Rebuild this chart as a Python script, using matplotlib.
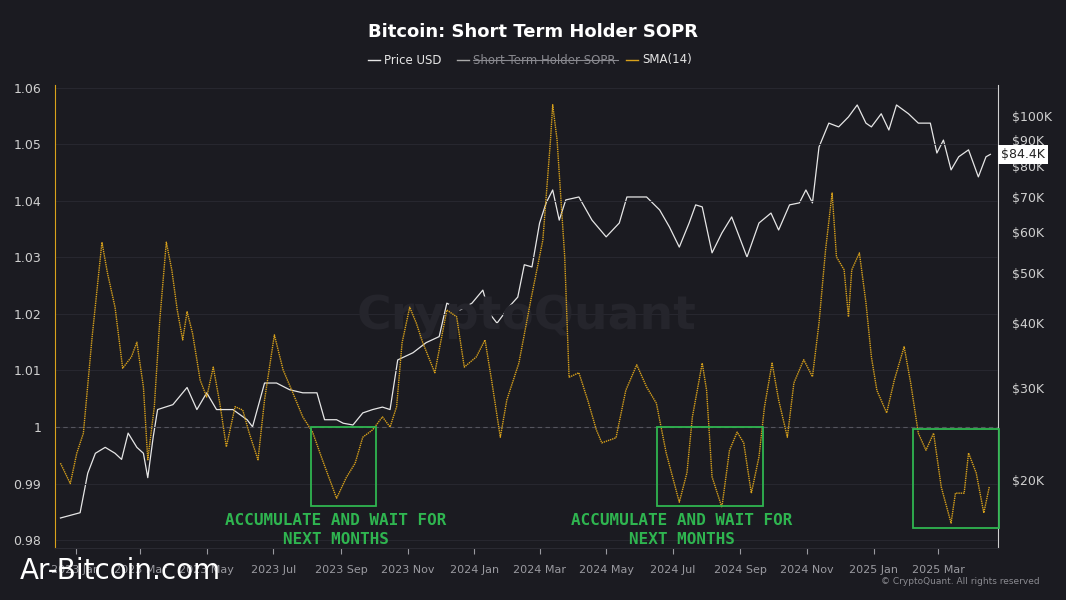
import numpy as np
import pandas as pd
import matplotlib
matplotlib.use("Agg")
import matplotlib.pyplot as plt
import matplotlib.dates as mdates
from matplotlib.patches import Rectangle
from matplotlib.lines import Line2D
from matplotlib.ticker import FixedLocator, FuncFormatter, NullLocator

BG = "#1b1b21"
ORANGE = "#d9a21b"
GREEN = "#2fb550"

sma_dates = ["2022-12-18", "2022-12-27", "2023-01-02", "2023-01-08", "2023-01-16", "2023-01-25",
             "2023-01-30", "2023-02-06", "2023-02-13", "2023-02-21", "2023-02-26", "2023-03-04",
             "2023-03-08", "2023-03-14", "2023-03-19", "2023-03-25", "2023-03-30", "2023-04-04",
             "2023-04-09", "2023-04-13", "2023-04-18", "2023-04-25", "2023-05-01", "2023-05-07",
             "2023-05-13", "2023-05-19", "2023-05-27", "2023-06-03", "2023-06-09", "2023-06-17",
             "2023-06-23", "2023-07-02", "2023-07-10", "2023-07-19", "2023-07-28", "2023-08-06",
             "2023-08-15", "2023-08-28", "2023-09-06", "2023-09-14", "2023-09-21", "2023-09-30",
             "2023-10-09", "2023-10-16", "2023-10-22", "2023-10-27", "2023-11-03", "2023-11-09",
             "2023-11-15", "2023-11-26", "2023-12-07", "2023-12-16", "2023-12-23", "2024-01-03",
             "2024-01-11", "2024-01-17", "2024-01-25", "2024-01-31", "2024-02-11", "2024-02-22",
             "2024-03-04", "2024-03-11", "2024-03-13", "2024-03-17", "2024-03-24", "2024-03-28",
             "2024-04-06", "2024-04-14", "2024-04-22", "2024-04-27", "2024-05-10", "2024-05-19",
             "2024-05-29", "2024-06-07", "2024-06-16", "2024-06-25", "2024-07-07", "2024-07-14",
             "2024-07-19", "2024-07-28", "2024-08-01", "2024-08-06", "2024-08-15", "2024-08-22",
             "2024-08-29", "2024-09-04", "2024-09-11", "2024-09-18", "2024-09-23", "2024-09-30",
             "2024-10-06", "2024-10-14", "2024-10-20", "2024-10-29", "2024-11-06", "2024-11-12",
             "2024-11-18", "2024-11-24", "2024-11-28", "2024-12-05", "2024-12-09", "2024-12-12",
             "2024-12-19", "2024-12-25", "2024-12-30", "2025-01-04", "2025-01-13", "2025-01-20",
             "2025-01-29", "2025-02-04", "2025-02-11", "2025-02-18", "2025-02-25", "2025-03-04",
             "2025-03-13", "2025-03-17", "2025-03-25", "2025-03-29", "2025-04-05", "2025-04-12",
             "2025-04-17"]
sma_values = [0.9936, 0.9900, 0.9954, 0.9989, 1.0159, 1.0327, 1.0273, 1.0212, 1.0104, 1.0124,
              1.0150, 1.0071, 0.9942, 1.0036, 1.0189, 1.0327, 1.0278, 1.0207, 1.0154, 1.0204,
              1.0166, 1.0083, 1.0053, 1.0106, 1.0042, 0.9965, 1.0036, 1.0030, 0.9989, 0.9942,
              1.0048, 1.0163, 1.0101, 1.0060, 1.0018, 0.9991, 0.9942, 0.9874, 0.9911, 0.9936,
              0.9982, 0.9995, 1.0018, 1.0000, 1.0036, 1.0149, 1.0212, 1.0184, 1.0149, 1.0096,
              1.0207, 1.0195, 1.0106, 1.0124, 1.0154, 1.0083, 0.9982, 1.0048, 1.0113, 1.0225,
              1.0331, 1.0508, 1.0570, 1.0508, 1.0301, 1.0088, 1.0096, 1.0048, 0.9995, 0.9972,
              0.9981, 1.0065, 1.0110, 1.0071, 1.0042, 0.9954, 0.9867, 0.9919, 1.0018, 1.0113,
              1.0065, 0.9912, 0.9858, 0.9959, 0.9991, 0.9972, 0.9883, 0.9947, 1.0035, 1.0113,
              1.0048, 0.9982, 1.0078, 1.0119, 1.0089, 1.0184, 1.0313, 1.0414, 1.0301, 1.0278,
              1.0195, 1.0278, 1.0308, 1.0220, 1.0124, 1.0065, 1.0025, 1.0083, 1.0142, 1.0078,
              0.9989, 0.9959, 0.9989, 0.9894, 0.9830, 0.9883, 0.9883, 0.9954, 0.9919, 0.9848,
              0.9894]

price_dates = ["2022-12-18", "2023-01-05", "2023-01-12", "2023-01-19", "2023-01-28", "2023-02-06",
               "2023-02-12", "2023-02-18", "2023-02-26", "2023-03-04", "2023-03-08", "2023-03-13",
               "2023-03-17", "2023-03-31", "2023-04-13", "2023-04-22", "2023-05-01", "2023-05-10",
               "2023-05-25", "2023-06-07", "2023-06-12", "2023-06-23", "2023-07-04", "2023-07-16",
               "2023-07-28", "2023-08-10", "2023-08-17", "2023-08-28", "2023-09-03", "2023-09-12",
               "2023-09-21", "2023-09-30", "2023-10-09", "2023-10-16", "2023-10-23", "2023-11-06",
               "2023-11-18", "2023-11-30", "2023-12-07", "2023-12-19", "2023-12-30", "2024-01-09",
               "2024-01-15", "2024-01-22", "2024-02-02", "2024-02-10", "2024-02-16", "2024-02-23",
               "2024-03-01", "2024-03-07", "2024-03-13", "2024-03-19", "2024-03-25", "2024-04-06",
               "2024-04-18", "2024-05-01", "2024-05-13", "2024-05-20", "2024-06-07", "2024-06-19",
               "2024-06-28", "2024-07-07", "2024-07-16", "2024-07-22", "2024-07-28", "2024-08-06",
               "2024-08-15", "2024-08-24", "2024-08-31", "2024-09-07", "2024-09-18", "2024-09-29",
               "2024-10-06", "2024-10-16", "2024-10-25", "2024-10-31", "2024-11-06", "2024-11-12",
               "2024-11-21", "2024-11-30", "2024-12-09", "2024-12-17", "2024-12-25", "2024-12-30",
               "2025-01-08", "2025-01-15", "2025-01-22", "2025-02-02", "2025-02-11", "2025-02-22",
               "2025-02-28", "2025-03-06", "2025-03-13", "2025-03-20", "2025-03-29", "2025-04-07",
               "2025-04-14", "2025-04-18"]
price_values = [16.9, 17.3, 20.6, 22.5, 23.1, 22.5, 21.9, 24.6, 23.1, 22.5, 20.2, 24.2, 27.3,
                27.9, 30.1, 27.3, 29.4, 27.3, 27.3, 26.1, 25.3, 30.7, 30.7, 29.8, 29.4, 29.4,
                26.1, 26.1, 25.7, 25.5, 26.9, 27.3, 27.6, 27.3, 34.0, 35.1, 36.7, 37.7, 43.7,
                42.4, 43.7, 46.3, 41.8, 40.0, 43.0, 44.9, 51.8, 51.3, 62.3, 68.1, 72.1, 63.1,
                69.0, 69.9, 63.1, 58.6, 62.3, 69.9, 69.9, 66.0, 61.2, 56.0, 62.3, 67.5, 66.9,
                54.6, 59.6, 64.0, 58.6, 53.6, 62.3, 65.1, 60.4, 67.5, 68.1, 72.1, 68.1, 87.2,
                96.9, 95.3, 99.6, 105.0, 96.9, 95.3, 101.0, 94.0, 105.0, 101.0, 96.9, 96.9,
                84.9, 89.9, 78.8, 83.5, 86.1, 76.4, 83.5, 84.4]

left_ticks = [0.98, 0.99, 1.00, 1.01, 1.02, 1.03, 1.04, 1.05, 1.06]
right_ticks = [20, 30, 40, 50, 60, 70, 80, 90, 100]

# accumulation zones: (start, end, low, high)
zones = [("2023-08-05", "2023-10-03", 0.9860, 1.0000),
         ("2024-06-17", "2024-09-22", 0.9860, 1.0000),
         ("2025-02-06", "2025-04-26", 0.9821, 0.9996)]

sma_x = pd.to_datetime(sma_dates)
price_x = pd.to_datetime(price_dates)

fig = plt.figure(figsize=(10.66, 6.0), dpi=100, facecolor=BG)
ax = fig.add_axes([55 / 1066, 52 / 600, 943 / 1066, 463 / 600], facecolor=BG)
ax2 = ax.twinx()
ax.set_zorder(2)
ax.patch.set_visible(False)
ax2.set_zorder(1)

ax.set_xlim(pd.Timestamp("2022-12-13"), pd.Timestamp("2025-04-25"))
ax.set_ylim(0.9786, 1.0605)
ax2.set_yscale("log")
ax2.set_ylim(14.8, 114.7)

for t in left_ticks:
    ax.axhline(t, color="#2a2a32", lw=0.6, zorder=0)
ax.axhline(1.0, color="#55555e", lw=0.8, ls=(0, (4, 3)))

ax2.plot(price_x, price_values, color="#e6e6e6", lw=0.9)
ax.plot(sma_x, sma_values, color=ORANGE, lw=1.0, ls=(0, (1, 0.6)))

for s, e, lo, hi in zones:
    x0 = mdates.date2num(pd.Timestamp(s))
    x1 = mdates.date2num(pd.Timestamp(e))
    ax.add_patch(Rectangle((x0, lo), x1 - x0, hi - lo, fill=False,
                           ec=GREEN, lw=1.3, zorder=5, clip_on=False))

ax.xaxis.set_major_locator(mdates.MonthLocator(bymonth=[1, 3, 5, 7, 9, 11]))
ax.xaxis.set_major_formatter(mdates.DateFormatter("%Y %b"))
ax.set_yticks(left_ticks)
ax.yaxis.set_major_formatter(FuncFormatter(lambda v, p: f"{v:g}"))
ax.tick_params(axis="x", colors="#9a9aa0", labelsize=8, length=4, pad=8)
ax.tick_params(axis="y", colors="#d0d0d0", labelsize=9, length=0, pad=10)
ax2.yaxis.set_major_locator(FixedLocator(right_ticks))
ax2.yaxis.set_minor_locator(NullLocator())
ax2.yaxis.set_major_formatter(FuncFormatter(lambda v, p: f"${v:g}K"))
ax2.tick_params(axis="y", colors="#d0d0d0", labelsize=9, length=0, pad=10)

for a in (ax, ax2):
    for sp in a.spines.values():
        sp.set_visible(False)
ax.spines["left"].set_visible(True)
ax.spines["left"].set_color(ORANGE)
ax2.spines["right"].set_visible(True)
ax2.spines["right"].set_color("#d0d0d0")
ax.spines["bottom"].set_visible(True)
ax.spines["bottom"].set_color("#2a2a32")

# last price marker
ax2.text(1.003, 84.4, "$84.4K", transform=ax2.get_yaxis_transform(), ha="left", va="center",
         fontsize=9, color="#222222",
         bbox=dict(boxstyle="square,pad=0.25", fc="white", ec="none"))

ax.text(0.5, 0.5, "CryptoQuant", transform=ax.transAxes, ha="center", va="center",
        fontsize=34, color="#25252c", fontweight="bold", zorder=0)

note = "ACCUMULATE AND WAIT FOR\nNEXT MONTHS"
fig.text(336 / 1066, 1 - 530 / 600, note, ha="center", va="center", color=GREEN,
         fontsize=11.5, family="DejaVu Sans Mono", fontweight="bold", linespacing=1.3)
fig.text(682 / 1066, 1 - 530 / 600, note, ha="center", va="center", color=GREEN,
         fontsize=11.5, family="DejaVu Sans Mono", fontweight="bold", linespacing=1.3)

fig.text(0.5, 1 - 32 / 600, "Bitcoin: Short Term Holder SOPR", ha="center", va="center",
         color="white", fontsize=13, fontweight="bold")

# legend
ly = 1 - 60 / 600
fig.add_artist(Line2D([368 / 1066, 380 / 1066], [ly, ly], color="#e6e6e6", lw=1))
fig.text(384 / 1066, ly, "Price USD", color="#e6e6e6", fontsize=8.5, va="center")
fig.add_artist(Line2D([457 / 1066, 469 / 1066], [ly, ly], color="#aaaaaa", lw=1))
fig.text(473 / 1066, ly, "Short Term Holder SOPR", color="#8a8a90", fontsize=8.5, va="center")
fig.add_artist(Line2D([473 / 1066, 618 / 1066], [ly, ly], color="#8a8a90", lw=0.8))
fig.add_artist(Line2D([626 / 1066, 638 / 1066], [ly, ly], color=ORANGE, lw=1))
fig.text(642 / 1066, ly, "SMA(14)", color="#e6e6e6", fontsize=8.5, va="center")

fig.text(20 / 1066, 1 - 571 / 600, "Ar-Bitcoin.com", color="white", fontsize=20,
         va="center", ha="left")
fig.text(1040 / 1066, 1 - 581 / 600, "© CryptoQuant. All rights reserved", color="#8a8a90",
         fontsize=6.5, va="center", ha="right")

fig.savefig("out.png", facecolor=BG)
